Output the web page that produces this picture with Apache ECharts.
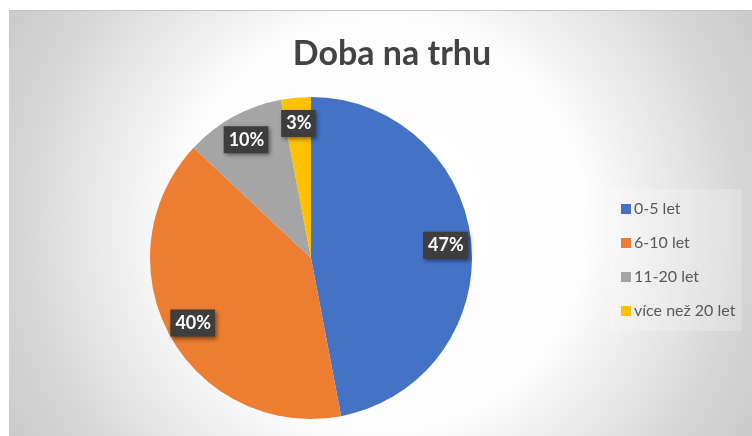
<!DOCTYPE html>
<html>
<head>
<meta charset="utf-8">
<script src="https://cdn.jsdelivr.net/npm/echarts@6/dist/echarts.min.js"></script>
<style>
  html, body { margin: 0; padding: 0; background: #fff; }
  .frame { position: absolute; left: 9px; top: 10px; width: 743px; height: 426px; border-top: 1px solid #c4c4c4; box-sizing: border-box; }
  .chart { width: 100%; height: 100%; }
</style>
</head>
<body>
<div class="frame"><div class="chart"></div></div>
<script>
// data
var categories = ["0-5 let", "6-10 let", "11-20 let", "více než 20 let"];
var shares = [47, 40, 10, 3];
var colors = ["#4472C4", "#ED7D31", "#A5A5A5", "#FFC000"];

(function() {
    var myChart = echarts.init(document.querySelector('.frame .chart'));

    var pieData = categories.map(function(name, i) {
        return { name: name, value: shares[i] };
    });

    var option = {
        color: colors,
        backgroundColor: new echarts.graphic.RadialGradient(372, 214, 425, [
            { offset: 0, color: '#ffffff' },
            { offset: 0.48, color: '#fdfdfd' },
            { offset: 0.85, color: '#d6d6d6' },
            { offset: 1, color: '#cbcbcb' }
        ], true),
        title: {
            text: 'Doba na trhu',
            left: 378,
            top: 21,
            textAlign: 'center',
            textStyle: {
                fontFamily: 'Lato',
                fontWeight: 'bold',
                fontSize: 34,
                color: '#434343'
            }
        },
        legend: {
            orient: 'vertical',
            left: 601,
            top: 178,
            padding: [12, 6, 12, 11],
            backgroundColor: 'rgba(255,255,255,0.22)',
            itemWidth: 10,
            itemHeight: 10,
            itemGap: 18,
            icon: 'rect',
            data: categories,
            textStyle: {
                fontFamily: 'Lato',
                fontSize: 16,
                color: '#595959',
                padding: [0, 0, 0, -2]
            }
        },
        series: [{
            name: 'Doba na trhu',
            type: 'pie',
            center: [302, 247],
            radius: [0, 161],
            startAngle: 90,
            clockwise: true,
            silent: true,
            label: { show: false },
            labelLine: { show: false },
            data: pieData
        }, {
            // transparent ring only used to place the labels
            name: 'labels',
            type: 'pie',
            center: [302, 247],
            radius: [103, 161],
            startAngle: 90,
            clockwise: true,
            silent: true,
            itemStyle: { color: 'rgba(0,0,0,0)' },
            labelLine: { show: false },
            label: {
                show: true,
                position: 'inside',
                formatter: '{c}%',
                color: '#ffffff',
                fontFamily: 'Lato',
                fontWeight: 'bold',
                fontSize: 18,
                backgroundColor: '#3d3d3d',
                padding: [5, 4, 4, 5],
                shadowColor: 'rgba(0,0,0,0.45)',
                shadowBlur: 4,
                shadowOffsetX: 2,
                shadowOffsetY: 2
            },
            data: pieData
        }]
    };
    myChart.setOption(option);
    window.addEventListener("resize", function() {
        myChart.resize();
    });
})();
</script>
</body>
</html>
